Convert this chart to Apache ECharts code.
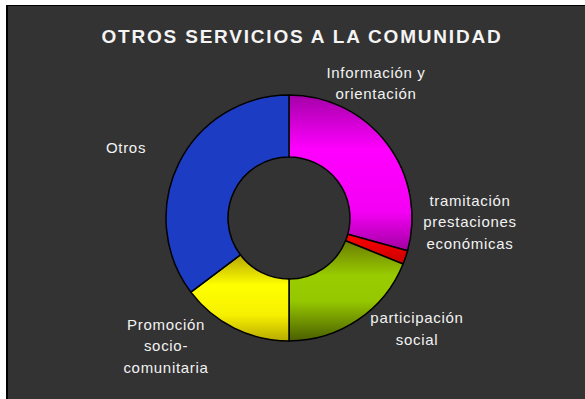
<!DOCTYPE html>
<html>
<head>
<meta charset="utf-8">
<script src="https://cdn.jsdelivr.net/npm/echarts@6/dist/echarts.min.js"></script>
<style>
  html, body { margin: 0; padding: 0; background: #ffffff; }
  #chart { width: 585px; height: 399px; }
  #chart text { letter-spacing: 0.7px; }
  #chart text[style*="bold"] { letter-spacing: 1.8px; }
</style>
</head>
<body>
<div id="chart"></div>
<script>
// Shares of "otros servicios a la comunidad" (percent)
const categories = [
  'Información y\norientación',
  'tramitación\nprestaciones\neconómicas',
  'participación\nsocial',
  'Promoción\nsocio-\ncomunitaria',
  'Otros'
];
const values = [29.3, 1.8, 18.9, 14.7, 35.3];
const titleText = 'OTROS SERVICIOS A LA COMUNIDAD';

// Vertical shading for each ring segment
function shade(stops) {
  return new echarts.graphic.LinearGradient(0, 0, 0, 1,
    stops.map(([offset, color]) => ({ offset, color })));
}
const sliceFills = [
  shade([[0, '#a400a8'], [0.35, '#ff00ff'], [0.75, '#f400f4'], [1, '#a000a0']]),
  shade([[0, '#ff0000'], [1, '#c80000']]),
  shade([[0, '#6a7c00'], [0.35, '#99cc00'], [0.6, '#96c800'], [1, '#4a5e00']]),
  shade([[0, '#b4a600'], [0.35, '#ffff00'], [0.7, '#f6f000'], [1, '#b8aa00']]),
  '#1c3cc4'
];

// Where each label block sits (centre of the text block)
const labelSpots = [
  { x: 376, y: 83 },
  { x: 470, y: 221.5 },
  { x: 417, y: 328.5 },
  { x: 166, y: 345.5 },
  { x: 126, y: 147 }
];

const chart = echarts.init(document.getElementById('chart'), null, { renderer: 'svg' });
chart.setOption({
  animation: false,
  backgroundColor: '#333333',
  title: {
    text: titleText,
    left: 297,
    top: 22,
    textAlign: 'center',
    textStyle: {
      color: '#f4f4f4',
      fontFamily: '"Liberation Sans", Arial, sans-serif',
      fontWeight: 'bold',
      fontSize: 19
    }
  },
  graphic: [
    { type: 'rect', shape: { x: 0, y: 0, width: 585, height: 5 }, style: { fill: '#ffffff' }, silent: true },
    { type: 'rect', shape: { x: 0, y: 0, width: 6, height: 399 }, style: { fill: '#ffffff' }, silent: true },
    { type: 'rect', shape: { x: 6, y: 5, width: 579, height: 1 }, style: { fill: '#000000' }, silent: true },
    { type: 'rect', shape: { x: 6, y: 5, width: 2, height: 394 }, style: { fill: '#000000' }, silent: true }
  ],
  series: [{
    type: 'pie',
    center: [289, 218],
    radius: [61, 123],
    startAngle: 90,
    clockwise: true,
    avoidLabelOverlap: false,
    data: categories.map((name, i) => ({
      name,
      value: values[i],
      itemStyle: { color: sliceFills[i] }
    })),
    itemStyle: { borderColor: '#000000', borderWidth: 1.5 },
    label: {
      show: true,
      position: 'outside',
      formatter: '{b}',
      color: '#f2f2f2',
      fontFamily: '"Liberation Sans", Arial, sans-serif',
      fontSize: 15,
      lineHeight: 21.5,
      align: 'center'
    },
    labelLine: { show: false },
    labelLayout: function (params) {
      const p = labelSpots[params.dataIndex];
      return { x: p.x, y: p.y, align: 'center', verticalAlign: 'middle' };
    },
    emphasis: { disabled: true }
  }]
});
</script>
</body>
</html>
